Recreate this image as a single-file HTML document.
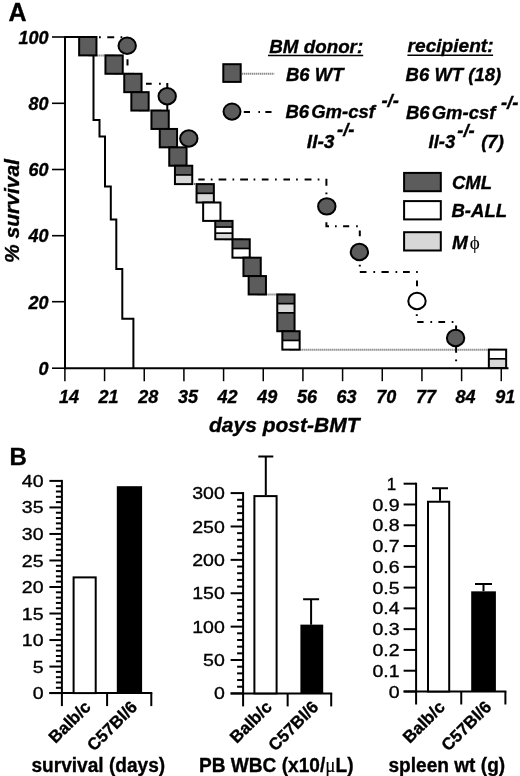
<!DOCTYPE html>
<html><head><meta charset="utf-8"><title>Figure</title>
<style>html,body{margin:0;padding:0;background:#fff;}svg{display:block;}text{stroke:#000;stroke-width:0.35px;}</style>
</head><body>
<svg width="520" height="776" viewBox="0 0 520 776">
<rect width="520" height="776" fill="#fff"/>
<g stroke="#000" stroke-width="2" fill="none">
<line x1="65" y1="36.2" x2="65" y2="369.2"/>
<line x1="64" y1="368.2" x2="508.5" y2="368.2"/>
</g>
<g stroke="#000" stroke-width="1.6" fill="none">
<line x1="52" y1="37" x2="65" y2="37"/>
<line x1="52" y1="103.3" x2="65" y2="103.3"/>
<line x1="52" y1="169.5" x2="65" y2="169.5"/>
<line x1="52" y1="235.7" x2="65" y2="235.7"/>
<line x1="52" y1="301.7" x2="65" y2="301.7"/>
<line x1="52" y1="368.2" x2="65" y2="368.2"/>
</g>
<g stroke="#000" stroke-width="1.5">
<line x1="64.90" y1="368" x2="64.90" y2="381.2"/>
<line x1="104.57" y1="368" x2="104.57" y2="381.2"/>
<line x1="144.24" y1="368" x2="144.24" y2="381.2"/>
<line x1="183.91" y1="368" x2="183.91" y2="381.2"/>
<line x1="223.58" y1="368" x2="223.58" y2="381.2"/>
<line x1="263.25" y1="368" x2="263.25" y2="381.2"/>
<line x1="302.92" y1="368" x2="302.92" y2="381.2"/>
<line x1="342.59" y1="368" x2="342.59" y2="381.2"/>
<line x1="382.26" y1="368" x2="382.26" y2="381.2"/>
<line x1="421.93" y1="368" x2="421.93" y2="381.2"/>
<line x1="461.60" y1="368" x2="461.60" y2="381.2"/>
<line x1="501.27" y1="368" x2="501.27" y2="381.2"/>
</g>
<g font-family="'Liberation Sans', Arial, Helvetica, sans-serif" font-weight="bold" font-style="italic" font-size="18" text-anchor="end" fill="#000">
<text x="48.6" y="43.6">100</text>
<text x="48.6" y="109.9">80</text>
<text x="48.6" y="176.1">60</text>
<text x="48.6" y="242.3">40</text>
<text x="48.6" y="308.5">20</text>
<text x="48.6" y="374.8">0</text>
</g>
<g font-family="'Liberation Sans', Arial, Helvetica, sans-serif" font-weight="bold" font-style="italic" font-size="18" text-anchor="middle" fill="#000">
<text x="68.9" y="402.5">14</text>
<text x="108.6" y="402.5">21</text>
<text x="148.2" y="402.5">28</text>
<text x="187.9" y="402.5">35</text>
<text x="227.6" y="402.5">42</text>
<text x="267.2" y="402.5">49</text>
<text x="306.9" y="402.5">56</text>
<text x="346.6" y="402.5">63</text>
<text x="386.3" y="402.5">70</text>
<text x="425.9" y="402.5">77</text>
<text x="465.6" y="402.5">84</text>
<text x="505.3" y="402.5">91</text>
</g>
<text x="209" y="432.2" font-family="'Liberation Sans', Arial, Helvetica, sans-serif" font-weight="bold" font-style="italic" font-size="21">days post-BMT</text>
<text transform="translate(18.5,211) rotate(-90)" text-anchor="middle" font-family="'Liberation Sans', Arial, Helvetica, sans-serif" font-weight="bold" font-style="italic" font-size="21">% survival</text>
<text x="8.5" y="20.8" font-family="'Liberation Sans', Arial, Helvetica, sans-serif" font-weight="bold" font-size="25">A</text>
<path d="M65,37 H87.8 V55.39 H114.1 V73.78 H132.9 V92.17 H140.0 V110.56 H160.1 V128.95 H168.4 V147.34 H177.9 V165.73 H183.6 V184.12 H205.2 V202.51 H211.8 V220.90 H223.9 V239.29 H241.1 V257.68 H252.1 V276.07 H257.3 V294.46 H285.9 V331.24 H291.0 V349.63 H497.5 V368.02" fill="none" stroke="#5a5a5a" stroke-width="2" stroke-dasharray="1 1"/>
<path d="M65,37 H93.5 V120 H99.5 V136.5 H105 V186.5 H110.8 V219.4 H116.3 V268.9 H122.3 V318.7 H133.4 V368.2" fill="none" stroke="#000" stroke-width="2"/>
<path d="M99.0,37.2 H100.8 M107.3,37.2 H114.2 M120.5,37.2 H122.3 M127.5,59.2 V65.6 M146,83.7 H151.7 M159.0,83.7 H160.8 M167.3,82.9 V88.5 M167.3,104 V110.5 M198.3,179.6 H204.7 M210.8,179.6 H212.5 M218.6,179.6 H226.3 M232.5,179.6 H234.2 M240.2,179.6 H248 M253.6,179.6 H255.3 M261.8,179.6 H268.5 M275,179.6 H276.7 M283.4,179.6 H290 M296.1,179.6 H297.8 M304.6,179.6 H311.5 M317.7,179.6 H319.4 M326.4,178.7 V185.7 M326.4,192.6 V194.3 M326.4,222.3 V226.2 H329 M335,226.2 H336.7 M343.1,226.2 H349.2 M356.1,226.2 H357.8 M359.8,230.6 V236.3 M359.8,264.8 V266.5 M359.8,271.9 H366.5 M373.4,271.9 H375.1 M381.5,271.9 H388.7 M395.5,271.9 H397.2 M403,271.9 H409.8 M416.1,271.9 H417.8 M417,280.6 V286.3 M416.8,314.2 V315.9 M417.2,322 H423.6 M430.4,322 H432.1 M438.4,322 H445.1 M451.7,322 H453.4 M456.1,325.5 V330 M456.1,346 V352.7 M456.1,359.5 V361.2" fill="none" stroke="#000" stroke-width="2"/>
<rect x="79.15" y="37.00" width="17.3" height="18.39" fill="#5c5c5c"/>
<rect x="79.15" y="37.00" width="17.3" height="18.39" fill="none" stroke="#000" stroke-width="2"/>
<rect x="105.45" y="55.39" width="17.3" height="18.39" fill="#5c5c5c"/>
<rect x="105.45" y="55.39" width="17.3" height="18.39" fill="none" stroke="#000" stroke-width="2"/>
<rect x="124.25" y="73.78" width="17.3" height="18.39" fill="#5c5c5c"/>
<rect x="124.25" y="73.78" width="17.3" height="18.39" fill="none" stroke="#000" stroke-width="2"/>
<rect x="131.35" y="92.17" width="17.3" height="18.39" fill="#5c5c5c"/>
<rect x="131.35" y="92.17" width="17.3" height="18.39" fill="none" stroke="#000" stroke-width="2"/>
<rect x="151.45" y="110.56" width="17.3" height="18.39" fill="#5c5c5c"/>
<rect x="151.45" y="110.56" width="17.3" height="18.39" fill="none" stroke="#000" stroke-width="2"/>
<rect x="159.75" y="128.95" width="17.3" height="18.39" fill="#5c5c5c"/>
<rect x="159.75" y="128.95" width="17.3" height="18.39" fill="none" stroke="#000" stroke-width="2"/>
<rect x="169.25" y="147.34" width="17.3" height="18.39" fill="#5c5c5c"/>
<rect x="169.25" y="147.34" width="17.3" height="18.39" fill="none" stroke="#000" stroke-width="2"/>
<rect x="174.95" y="165.73" width="17.3" height="18.39" fill="#d7d7d7"/>
<rect x="174.95" y="165.73" width="17.3" height="9.19" fill="#5c5c5c"/>
<line x1="174.95" y1="174.93" x2="192.25" y2="174.93" stroke="#000" stroke-width="1.7"/>
<rect x="174.95" y="165.73" width="17.3" height="18.39" fill="none" stroke="#000" stroke-width="2"/>
<rect x="196.55" y="184.12" width="17.3" height="18.39" fill="#d7d7d7"/>
<rect x="196.55" y="184.12" width="17.3" height="9.19" fill="#5c5c5c"/>
<line x1="196.55" y1="193.31" x2="213.85" y2="193.31" stroke="#000" stroke-width="1.7"/>
<rect x="196.55" y="184.12" width="17.3" height="18.39" fill="none" stroke="#000" stroke-width="2"/>
<rect x="203.15" y="202.51" width="17.3" height="18.39" fill="#ffffff"/>
<rect x="203.15" y="202.51" width="17.3" height="18.39" fill="none" stroke="#000" stroke-width="2"/>
<rect x="215.25" y="220.90" width="17.3" height="18.39" fill="#d7d7d7"/>
<rect x="215.25" y="220.90" width="17.3" height="6.13" fill="#5c5c5c"/>
<rect x="215.25" y="227.03" width="17.3" height="6.13" fill="#ffffff"/>
<line x1="215.25" y1="227.03" x2="232.55" y2="227.03" stroke="#000" stroke-width="1.7"/>
<line x1="215.25" y1="233.16" x2="232.55" y2="233.16" stroke="#000" stroke-width="1.7"/>
<rect x="215.25" y="220.90" width="17.3" height="18.39" fill="none" stroke="#000" stroke-width="2"/>
<rect x="232.45" y="239.29" width="17.3" height="18.39" fill="#ffffff"/>
<rect x="232.45" y="239.29" width="17.3" height="9.19" fill="#5c5c5c"/>
<line x1="232.45" y1="248.49" x2="249.75" y2="248.49" stroke="#000" stroke-width="1.7"/>
<rect x="232.45" y="239.29" width="17.3" height="18.39" fill="none" stroke="#000" stroke-width="2"/>
<rect x="243.45" y="257.68" width="17.3" height="18.39" fill="#5c5c5c"/>
<rect x="243.45" y="257.68" width="17.3" height="18.39" fill="none" stroke="#000" stroke-width="2"/>
<rect x="248.65" y="276.07" width="17.3" height="18.39" fill="#5c5c5c"/>
<rect x="248.65" y="276.07" width="17.3" height="18.39" fill="none" stroke="#000" stroke-width="2"/>
<rect x="277.25" y="294.46" width="17.3" height="36.78" fill="#5c5c5c"/>
<rect x="277.25" y="303.66" width="17.3" height="9.19" fill="#d7d7d7"/>
<line x1="277.25" y1="303.66" x2="294.55" y2="303.66" stroke="#000" stroke-width="1.7"/>
<line x1="277.25" y1="312.85" x2="294.55" y2="312.85" stroke="#000" stroke-width="1.7"/>
<rect x="277.25" y="294.46" width="17.3" height="36.78" fill="none" stroke="#000" stroke-width="2"/>
<rect x="282.35" y="331.24" width="17.3" height="18.39" fill="#ffffff"/>
<rect x="282.35" y="331.24" width="17.3" height="9.19" fill="#5c5c5c"/>
<line x1="282.35" y1="340.44" x2="299.65" y2="340.44" stroke="#000" stroke-width="1.7"/>
<rect x="282.35" y="331.24" width="17.3" height="18.39" fill="none" stroke="#000" stroke-width="2"/>
<rect x="488.85" y="349.63" width="17.3" height="18.39" fill="#d7d7d7"/>
<rect x="488.85" y="349.63" width="17.3" height="9.19" fill="#ffffff"/>
<line x1="488.85" y1="358.82" x2="506.15" y2="358.82" stroke="#000" stroke-width="1.7"/>
<rect x="488.85" y="349.63" width="17.3" height="18.39" fill="none" stroke="#000" stroke-width="2"/>
<ellipse cx="127.2" cy="45.8" rx="8.7" ry="8.2" fill="#5c5c5c" stroke="#000" stroke-width="2"/>
<ellipse cx="167.2" cy="96.2" rx="8.7" ry="8.2" fill="#5c5c5c" stroke="#000" stroke-width="2"/>
<ellipse cx="188.8" cy="138.5" rx="8.7" ry="8.2" fill="#5c5c5c" stroke="#000" stroke-width="2"/>
<ellipse cx="326.8" cy="206.4" rx="8.7" ry="8.2" fill="#5c5c5c" stroke="#000" stroke-width="2"/>
<ellipse cx="359.4" cy="252" rx="8.7" ry="8.2" fill="#5c5c5c" stroke="#000" stroke-width="2"/>
<ellipse cx="417" cy="301" rx="8.7" ry="8.2" fill="#ffffff" stroke="#000" stroke-width="2"/>
<ellipse cx="455.6" cy="338" rx="8.7" ry="8.2" fill="#5c5c5c" stroke="#000" stroke-width="2"/>
<text x="269.3" y="53" font-family="'Liberation Sans', Arial, Helvetica, sans-serif" font-weight="bold" font-style="italic" font-size="18.8">BM donor:</text>
<line x1="268" y1="55.6" x2="363.2" y2="55.6" stroke="#000" stroke-width="1.5"/>
<text x="407.6" y="52.3" font-family="'Liberation Sans', Arial, Helvetica, sans-serif" font-weight="bold" font-style="italic" font-size="19.1">recipient:</text>
<line x1="407.4" y1="55.3" x2="493.1" y2="55.3" stroke="#000" stroke-width="1.5"/>
<rect x="223.3" y="64.2" width="17.4" height="17.7" fill="#5c5c5c" stroke="#000" stroke-width="2"/>
<line x1="241.7" y1="73.8" x2="274.2" y2="73.8" stroke="#5a5a5a" stroke-width="2" stroke-dasharray="1 1"/>
<text x="286" y="80.9" font-family="'Liberation Sans', Arial, Helvetica, sans-serif" font-weight="bold" font-style="italic" font-size="18.5">B6 WT</text>
<text x="405.6" y="81" font-family="'Liberation Sans', Arial, Helvetica, sans-serif" font-weight="bold" font-style="italic" font-size="18.5">B6 WT (18)</text>
<ellipse cx="232" cy="111.6" rx="8.5" ry="8.1" fill="#5c5c5c" stroke="#000" stroke-width="2"/>
<path d="M243.8,112 H250 M258.4,112 H260 M265.4,112 H271.5" stroke="#000" stroke-width="2"/>
<text x="285.5" y="118.3" font-family="'Liberation Sans', Arial, Helvetica, sans-serif" font-weight="bold" font-style="italic" font-size="18.5">B6<tspan dx="2">Gm-csf</tspan><tspan dx="6.5" dy="-11">-/-</tspan></text>
<text x="306.8" y="147.8" font-family="'Liberation Sans', Arial, Helvetica, sans-serif" font-weight="bold" font-style="italic" font-size="19.2">Il-3<tspan dx="2.5" dy="-11.5" font-size="18.5">-/-</tspan></text>
<text x="406" y="119.2" font-family="'Liberation Sans', Arial, Helvetica, sans-serif" font-weight="bold" font-style="italic" font-size="18.5">B6<tspan dx="2">Gm-csf</tspan><tspan dx="5.5" dy="-10.5">-/-</tspan></text>
<text x="428.5" y="147.8" font-family="'Liberation Sans', Arial, Helvetica, sans-serif" font-weight="bold" font-style="italic" font-size="18.5">Il-3<tspan dx="2" dy="-10.8">-/-</tspan><tspan dx="6.5" dy="10.8">(7)</tspan></text>
<rect x="404.1" y="172.9" width="36.7" height="18.3" fill="#5c5c5c" stroke="#000" stroke-width="2"/>
<rect x="404.1" y="201.1" width="36.7" height="18.3" fill="#ffffff" stroke="#000" stroke-width="2"/>
<rect x="404.1" y="232.2" width="36.7" height="18.3" fill="#d7d7d7" stroke="#000" stroke-width="2"/>
<text x="452" y="189.4" font-family="'Liberation Sans', Arial, Helvetica, sans-serif" font-weight="bold" font-style="italic" font-size="18.5">CML</text>
<text x="451.5" y="217.1" font-family="'Liberation Sans', Arial, Helvetica, sans-serif" font-weight="bold" font-style="italic" font-size="18.5">B-ALL</text>
<text x="452" y="248.5" font-family="'Liberation Sans', Arial, Helvetica, sans-serif" font-weight="bold" font-style="italic" font-size="19">M<tspan dx="2" font-family="'Liberation Serif', serif" font-weight="normal" font-style="normal" font-size="19" style="stroke-width:0.1px">&#981;</tspan></text>
<text x="9.5" y="465.1" font-family="'Liberation Sans', Arial, Helvetica, sans-serif" font-weight="bold" font-size="24">B</text>
<g stroke="#000" stroke-width="2" fill="none">
<line x1="61.9" y1="479.9" x2="61.9" y2="706.1"/>
<line x1="49.4" y1="693.1" x2="152.3" y2="693.1"/>
<line x1="107.10000000000001" y1="693.1" x2="107.10000000000001" y2="706.1"/>
<line x1="151.3" y1="693.1" x2="151.3" y2="706.1"/>
<line x1="49.40" y1="693.10" x2="61.9" y2="693.10"/>
<line x1="55.90" y1="687.80" x2="61.9" y2="687.80"/>
<line x1="55.90" y1="682.49" x2="61.9" y2="682.49"/>
<line x1="55.90" y1="677.19" x2="61.9" y2="677.19"/>
<line x1="55.90" y1="671.88" x2="61.9" y2="671.88"/>
<line x1="49.40" y1="666.58" x2="61.9" y2="666.58"/>
<line x1="55.90" y1="661.27" x2="61.9" y2="661.27"/>
<line x1="55.90" y1="655.97" x2="61.9" y2="655.97"/>
<line x1="55.90" y1="650.66" x2="61.9" y2="650.66"/>
<line x1="55.90" y1="645.36" x2="61.9" y2="645.36"/>
<line x1="49.40" y1="640.05" x2="61.9" y2="640.05"/>
<line x1="55.90" y1="634.75" x2="61.9" y2="634.75"/>
<line x1="55.90" y1="629.44" x2="61.9" y2="629.44"/>
<line x1="55.90" y1="624.13" x2="61.9" y2="624.13"/>
<line x1="55.90" y1="618.83" x2="61.9" y2="618.83"/>
<line x1="49.40" y1="613.52" x2="61.9" y2="613.52"/>
<line x1="55.90" y1="608.22" x2="61.9" y2="608.22"/>
<line x1="55.90" y1="602.91" x2="61.9" y2="602.91"/>
<line x1="55.90" y1="597.61" x2="61.9" y2="597.61"/>
<line x1="55.90" y1="592.30" x2="61.9" y2="592.30"/>
<line x1="49.40" y1="587.00" x2="61.9" y2="587.00"/>
<line x1="55.90" y1="581.69" x2="61.9" y2="581.69"/>
<line x1="55.90" y1="576.39" x2="61.9" y2="576.39"/>
<line x1="55.90" y1="571.09" x2="61.9" y2="571.09"/>
<line x1="55.90" y1="565.78" x2="61.9" y2="565.78"/>
<line x1="49.40" y1="560.48" x2="61.9" y2="560.48"/>
<line x1="55.90" y1="555.17" x2="61.9" y2="555.17"/>
<line x1="55.90" y1="549.87" x2="61.9" y2="549.87"/>
<line x1="55.90" y1="544.56" x2="61.9" y2="544.56"/>
<line x1="55.90" y1="539.25" x2="61.9" y2="539.25"/>
<line x1="49.40" y1="533.95" x2="61.9" y2="533.95"/>
<line x1="55.90" y1="528.64" x2="61.9" y2="528.64"/>
<line x1="55.90" y1="523.34" x2="61.9" y2="523.34"/>
<line x1="55.90" y1="518.03" x2="61.9" y2="518.03"/>
<line x1="55.90" y1="512.73" x2="61.9" y2="512.73"/>
<line x1="49.40" y1="507.42" x2="61.9" y2="507.42"/>
<line x1="55.90" y1="502.12" x2="61.9" y2="502.12"/>
<line x1="55.90" y1="496.81" x2="61.9" y2="496.81"/>
<line x1="55.90" y1="491.51" x2="61.9" y2="491.51"/>
<line x1="55.90" y1="486.20" x2="61.9" y2="486.20"/>
<line x1="49.40" y1="480.90" x2="61.9" y2="480.90"/>
</g>
<g font-family="'Liberation Sans', Arial, Helvetica, sans-serif" font-size="17" text-anchor="end" fill="#000">
<text transform="translate(43.6,699.1) scale(1.15,1)">0</text>
<text transform="translate(43.6,672.6) scale(1.15,1)">5</text>
<text transform="translate(43.6,646.0) scale(1.15,1)">10</text>
<text transform="translate(43.6,619.5) scale(1.15,1)">15</text>
<text transform="translate(43.6,593.0) scale(1.15,1)">20</text>
<text transform="translate(43.6,566.5) scale(1.15,1)">25</text>
<text transform="translate(43.6,540.0) scale(1.15,1)">30</text>
<text transform="translate(43.6,513.4) scale(1.15,1)">35</text>
<text transform="translate(43.6,486.9) scale(1.15,1)">40</text>
</g>
<rect x="73.6" y="577.39" width="22.10000000000001" height="115.71" fill="#fff" stroke="#000" stroke-width="2"/>
<rect x="116.8" y="486.20" width="25.299999999999997" height="206.90" fill="#000"/>
<text transform="translate(91.7,708) rotate(-45)" text-anchor="end" font-family="'Liberation Sans', Arial, Helvetica, sans-serif" font-weight="bold" font-size="17">Balb/c</text>
<text transform="translate(138.2,708) rotate(-45)" text-anchor="end" font-family="'Liberation Sans', Arial, Helvetica, sans-serif" font-weight="bold" font-size="17">C57Bl/6</text>
<text transform="translate(31.5,772) scale(0.932,1)" font-family="'Liberation Sans', Arial, Helvetica, sans-serif" font-weight="bold" font-size="20.5">survival (days)</text>
<g stroke="#000" stroke-width="2" fill="none">
<line x1="243.1" y1="492.1" x2="243.1" y2="706.4"/>
<line x1="230.6" y1="693.4" x2="332.2" y2="693.4"/>
<line x1="287.65" y1="693.4" x2="287.65" y2="706.4"/>
<line x1="331.2" y1="693.4" x2="331.2" y2="706.4"/>
<line x1="230.60" y1="693.40" x2="243.1" y2="693.40"/>
<line x1="237.10" y1="686.72" x2="243.1" y2="686.72"/>
<line x1="237.10" y1="680.05" x2="243.1" y2="680.05"/>
<line x1="237.10" y1="673.37" x2="243.1" y2="673.37"/>
<line x1="237.10" y1="666.69" x2="243.1" y2="666.69"/>
<line x1="230.60" y1="660.02" x2="243.1" y2="660.02"/>
<line x1="237.10" y1="653.34" x2="243.1" y2="653.34"/>
<line x1="237.10" y1="646.66" x2="243.1" y2="646.66"/>
<line x1="237.10" y1="639.99" x2="243.1" y2="639.99"/>
<line x1="237.10" y1="633.31" x2="243.1" y2="633.31"/>
<line x1="230.60" y1="626.63" x2="243.1" y2="626.63"/>
<line x1="237.10" y1="619.96" x2="243.1" y2="619.96"/>
<line x1="237.10" y1="613.28" x2="243.1" y2="613.28"/>
<line x1="237.10" y1="606.60" x2="243.1" y2="606.60"/>
<line x1="237.10" y1="599.93" x2="243.1" y2="599.93"/>
<line x1="230.60" y1="593.25" x2="243.1" y2="593.25"/>
<line x1="237.10" y1="586.57" x2="243.1" y2="586.57"/>
<line x1="237.10" y1="579.90" x2="243.1" y2="579.90"/>
<line x1="237.10" y1="573.22" x2="243.1" y2="573.22"/>
<line x1="237.10" y1="566.54" x2="243.1" y2="566.54"/>
<line x1="230.60" y1="559.87" x2="243.1" y2="559.87"/>
<line x1="237.10" y1="553.19" x2="243.1" y2="553.19"/>
<line x1="237.10" y1="546.51" x2="243.1" y2="546.51"/>
<line x1="237.10" y1="539.84" x2="243.1" y2="539.84"/>
<line x1="237.10" y1="533.16" x2="243.1" y2="533.16"/>
<line x1="230.60" y1="526.48" x2="243.1" y2="526.48"/>
<line x1="237.10" y1="519.81" x2="243.1" y2="519.81"/>
<line x1="237.10" y1="513.13" x2="243.1" y2="513.13"/>
<line x1="237.10" y1="506.45" x2="243.1" y2="506.45"/>
<line x1="237.10" y1="499.78" x2="243.1" y2="499.78"/>
<line x1="230.60" y1="493.10" x2="243.1" y2="493.10"/>
</g>
<g font-family="'Liberation Sans', Arial, Helvetica, sans-serif" font-size="17" text-anchor="end" fill="#000">
<text transform="translate(224.8,699.4) scale(1.15,1)">0</text>
<text transform="translate(224.8,666.0) scale(1.15,1)">50</text>
<text transform="translate(224.8,632.6) scale(1.15,1)">100</text>
<text transform="translate(224.8,599.2) scale(1.15,1)">150</text>
<text transform="translate(224.8,565.9) scale(1.15,1)">200</text>
<text transform="translate(224.8,532.5) scale(1.15,1)">250</text>
<text transform="translate(224.8,499.1) scale(1.15,1)">300</text>
</g>
<rect x="254.4" y="496.10" width="22.200000000000017" height="197.30" fill="#fff" stroke="#000" stroke-width="2"/>
<rect x="300.4" y="624.63" width="22.80000000000001" height="68.77" fill="#000"/>
<path d="M265.8,495.10 V456.38 M258.3,456.38 H273.3" stroke="#000" stroke-width="2" fill="none"/>
<path d="M311.1,624.63 V599.26 M303.1,599.26 H319.1" stroke="#000" stroke-width="2" fill="none"/>
<text transform="translate(272.9,708) rotate(-45)" text-anchor="end" font-family="'Liberation Sans', Arial, Helvetica, sans-serif" font-weight="bold" font-size="17">Balb/c</text>
<text transform="translate(319.4,708) rotate(-45)" text-anchor="end" font-family="'Liberation Sans', Arial, Helvetica, sans-serif" font-weight="bold" font-size="17">C57Bl/6</text>
<text transform="translate(199,772) scale(0.932,1)" font-family="'Liberation Sans', Arial, Helvetica, sans-serif" font-weight="bold" font-size="20.5">PB WBC (x10/<tspan font-family="'Liberation Serif', serif" font-weight="normal" style="stroke-width:0.15px">&#956;</tspan>L)</text>
<g stroke="#000" stroke-width="2" fill="none">
<line x1="416.1" y1="482.7" x2="416.1" y2="704.5"/>
<line x1="403.6" y1="691.5" x2="506.4" y2="691.5"/>
<line x1="461.25" y1="691.5" x2="461.25" y2="704.5"/>
<line x1="505.4" y1="691.5" x2="505.4" y2="704.5"/>
<line x1="403.60" y1="691.50" x2="416.1" y2="691.50"/>
<line x1="403.60" y1="670.72" x2="416.1" y2="670.72"/>
<line x1="403.60" y1="649.94" x2="416.1" y2="649.94"/>
<line x1="403.60" y1="629.16" x2="416.1" y2="629.16"/>
<line x1="403.60" y1="608.38" x2="416.1" y2="608.38"/>
<line x1="403.60" y1="587.60" x2="416.1" y2="587.60"/>
<line x1="403.60" y1="566.82" x2="416.1" y2="566.82"/>
<line x1="403.60" y1="546.04" x2="416.1" y2="546.04"/>
<line x1="403.60" y1="525.26" x2="416.1" y2="525.26"/>
<line x1="403.60" y1="504.48" x2="416.1" y2="504.48"/>
<line x1="403.60" y1="483.70" x2="416.1" y2="483.70"/>
</g>
<g font-family="'Liberation Sans', Arial, Helvetica, sans-serif" font-size="17" text-anchor="end" fill="#000">
<text transform="translate(399.6,697.5) scale(1.15,1)">0</text>
<text transform="translate(399.6,676.7) scale(1.15,1)">0.1</text>
<text transform="translate(399.6,655.9) scale(1.15,1)">0.2</text>
<text transform="translate(399.6,635.2) scale(1.15,1)">0.3</text>
<text transform="translate(399.6,614.4) scale(1.15,1)">0.4</text>
<text transform="translate(399.6,593.6) scale(1.15,1)">0.5</text>
<text transform="translate(399.6,572.8) scale(1.15,1)">0.6</text>
<text transform="translate(399.6,552.0) scale(1.15,1)">0.7</text>
<text transform="translate(399.6,531.3) scale(1.15,1)">0.8</text>
<text transform="translate(399.6,510.5) scale(1.15,1)">0.9</text>
<text transform="translate(396.1,489.7) scale(1.0,1)">1</text>
</g>
<rect x="428" y="501.74" width="21.19999999999999" height="189.76" fill="#fff" stroke="#000" stroke-width="2"/>
<rect x="471.2" y="591.34" width="24.69999999999999" height="100.16" fill="#000"/>
<path d="M440,500.74 V488.27 M432.0,488.27 H448.0" stroke="#000" stroke-width="2" fill="none"/>
<path d="M483.5,591.34 V584.07 M475.0,584.07 H492.0" stroke="#000" stroke-width="2" fill="none"/>
<text transform="translate(445.9,708) rotate(-45)" text-anchor="end" font-family="'Liberation Sans', Arial, Helvetica, sans-serif" font-weight="bold" font-size="17">Balb/c</text>
<text transform="translate(492.4,708) rotate(-45)" text-anchor="end" font-family="'Liberation Sans', Arial, Helvetica, sans-serif" font-weight="bold" font-size="17">C57Bl/6</text>
<text transform="translate(388.5,772) scale(0.932,1)" font-family="'Liberation Sans', Arial, Helvetica, sans-serif" font-weight="bold" font-size="20.5">spleen wt (g)</text>
</svg>
</body></html>
